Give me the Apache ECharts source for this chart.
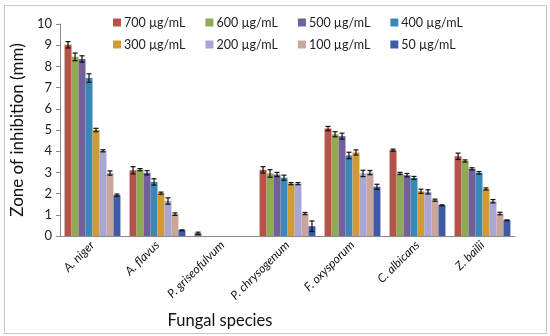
<!DOCTYPE html>
<html><head><meta charset="utf-8">
<script src="https://cdn.jsdelivr.net/npm/echarts@6/dist/echarts.min.js"></script>
<style>
html,body{margin:0;padding:0;background:#fff;}
#frame{position:absolute;left:4px;top:5px;width:541px;height:327px;border:1px solid #c8c8c8;}
#c{position:absolute;left:0;top:0;width:550px;height:336px;}
</style></head>
<body><div id="frame"></div><div id="c"></div>
<script>
const categories = ['A. niger','A. flavus','P. griseofulvum','P. chrysogenum','F. oxysporum','C. albicans','Z. bailii'];
const seriesNames = ['700 µg/mL','600 µg/mL','500 µg/mL','400 µg/mL','300 µg/mL','200 µg/mL','100 µg/mL','50 µg/mL'];
const colors = ['#B5524A','#8FAA50','#71609C','#3A88B5','#D29A34','#A7A6D4','#C9A69C','#3E5BA8'];
const v700 = [9.02, 3.10, 0.13, 3.12, 5.07, 4.05, 3.76];
const v600 = [8.45, 3.13, 0, 2.95, 4.80, 2.95, 3.54];
const v500 = [8.35, 2.98, 0, 2.90, 4.71, 2.87, 3.17];
const v400 = [7.45, 2.55, 0, 2.75, 3.80, 2.74, 2.98];
const v300 = [5.00, 2.02, 0, 2.47, 3.94, 2.11, 2.22];
const v200 = [4.02, 1.65, 0, 2.47, 2.95, 2.08, 1.64];
const v100 = [2.97, 1.03, 0, 1.06, 2.99, 1.69, 1.06];
const v50  = [1.93, 0.27, 0, 0.46, 2.32, 1.45, 0.74];
const e700 = [0.15, 0.17, 0.05, 0.15, 0.10, 0.05, 0.15];
const e600 = [0.18, 0.05, 0, 0.18, 0.12, 0.05, 0.05];
const e500 = [0.15, 0.10, 0, 0.10, 0.14, 0.08, 0.05];
const e400 = [0.20, 0.15, 0, 0.12, 0.15, 0.07, 0.06];
const e300 = [0.08, 0.05, 0, 0.05, 0.12, 0.10, 0.05];
const e200 = [0.05, 0.15, 0, 0.05, 0.15, 0.10, 0.08];
const e100 = [0.10, 0.06, 0, 0.05, 0.10, 0.05, 0.06];
const e50  = [0.05, 0.02, 0, 0.25, 0.12, 0.02, 0.02];
const values = [v700,v600,v500,v400,v300,v200,v100,v50];
const errors = [e700,e600,e500,e400,e300,e200,e100,e50];

const FONT = 'Lato';
const catGap = 0.14;
const nS = seriesNames.length;
const series = [];
seriesNames.forEach((n,i)=>{
  series.push({name:n,type:'bar',data:values[i],barGap:'0%',barCategoryGap:(catGap*100)+'%',
    itemStyle:{color:colors[i]},z:2});
});
seriesNames.forEach((n,i)=>{
  const data = values[i].map((v,k)=>[k, v, errors[i][k]]);
  series.push({type:'custom',name:n+' err',data:data,z:5,silent:true,
    renderItem:function(params,api){
      const k=api.value(0), v=api.value(1), e=api.value(2);
      if(v===0) return null;
      const band=api.size([1,0])[0];
      const bw=band*(1-catGap)/nS;
      const off=-band*(1-catGap)/2+(i+0.5)*bw;
      const pHi=api.coord([k,v+e]), pLo=api.coord([k,v-e]);
      const x=pHi[0]+off;
      const cap=2.5;
      const st={stroke:'#111',lineWidth:1.2};
      return {type:'group',children:[
        {type:'line',shape:{x1:x,y1:pHi[1],x2:x,y2:pLo[1]},style:st},
        {type:'line',shape:{x1:x-cap,y1:pHi[1],x2:x+cap,y2:pHi[1]},style:st},
        {type:'line',shape:{x1:x-cap,y1:pLo[1],x2:x+cap,y2:pLo[1]},style:st}
      ]};
    }});
});

const legendCommon = {orient:'horizontal',itemWidth:8,itemHeight:8,itemGap:20,icon:'rect',
  textStyle:{fontFamily:FONT,fontSize:12.5,color:'#222',width:66,padding:[0,0,0,-2]}};
const option = {
  animation:false,
  textStyle:{fontFamily:FONT},
  legend:[
    Object.assign({left:108,top:11,data:seriesNames.slice(0,4)},legendCommon),
    Object.assign({left:108,top:33,data:seriesNames.slice(4,8)},legendCommon)
  ],
  grid:{left:60,right:35,top:24,bottom:100,containLabel:false},
  xAxis:{type:'category',data:categories,
    axisLine:{lineStyle:{color:'#888'}},axisTick:{show:false},
    axisLabel:{rotate:45,interval:0,fontStyle:'italic',fontSize:12,color:'#111',fontFamily:FONT,margin:7},
    name:'Fungal species',nameLocation:'middle',nameGap:76,
    nameTextStyle:{fontSize:16.5,color:'#111',fontFamily:FONT,padding:[0,135,0,0]}},
  yAxis:{type:'value',min:0,max:10,interval:1,
    axisLine:{show:true,lineStyle:{color:'#888'}},axisTick:{show:true,inside:false,length:4,lineStyle:{color:'#888'}},
    splitLine:{show:false},
    axisLabel:{fontSize:13,color:'#222',fontFamily:FONT,margin:8},
    name:'Zone of inhibition (mm)',nameLocation:'middle',nameGap:29,
    nameTextStyle:{fontSize:17,color:'#111',fontFamily:FONT}},
  series:series
};
const chart = echarts.init(document.getElementById('c'));
chart.setOption(option);
</script></body></html>
